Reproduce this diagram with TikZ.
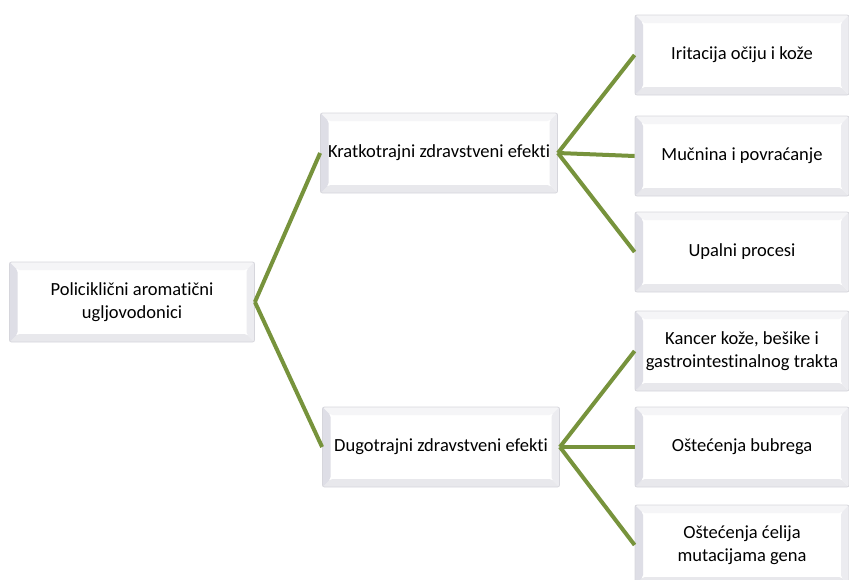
\documentclass[tikz,border=0pt]{standalone}
\usepackage{fontspec}
\setmainfont{Carlito}[Ligatures=CommonOff]
\usepackage{tikz}
\usetikzlibrary{positioning, calc}
\definecolor{branchgreen}{RGB}{119,147,60}
\definecolor{bevelline}{RGB}{214,214,220}
\definecolor{bevelleft}{RGB}{222,222,230}
\definecolor{bevelright}{RGB}{236,236,240}
\definecolor{beveltop}{RGB}{245,245,247}
\definecolor{bevelbottom}{RGB}{232,232,236}
\tikzset{
    bevelbox/.style={rectangle, draw=bevelline, line width=0.8pt, rounded corners=2pt, fill=white,
        minimum height=80pt, inner sep=2pt, align=center, font=\fontsize{18.5}{22.5}\selectfont,
        path picture={
            \fill[beveltop] (path picture bounding box.north west) -- (path picture bounding box.north east)
                -- ([shift={(-8pt,-8pt)}]path picture bounding box.north east) -- ([shift={(8pt,-8pt)}]path picture bounding box.north west) -- cycle;
            \fill[bevelbottom] (path picture bounding box.south west) -- (path picture bounding box.south east)
                -- ([shift={(-8pt,8pt)}]path picture bounding box.south east) -- ([shift={(8pt,8pt)}]path picture bounding box.south west) -- cycle;
            \fill[bevelleft] (path picture bounding box.north west) -- ([shift={(8pt,-8pt)}]path picture bounding box.north west)
                -- ([shift={(8pt,8pt)}]path picture bounding box.south west) -- (path picture bounding box.south west) -- cycle;
            \fill[bevelright] (path picture bounding box.north east) -- ([shift={(-8pt,-8pt)}]path picture bounding box.north east)
                -- ([shift={(-8pt,8pt)}]path picture bounding box.south east) -- (path picture bounding box.south east) -- cycle;
        }},
    rootbox/.style={bevelbox, minimum width=245pt},
    effectbox/.style={bevelbox, minimum width=237pt},
    leafbox/.style={bevelbox, minimum width=214pt},
    branch/.style={line width=4pt, color=branchgreen}
}

\begin{document}
\begin{tikzpicture}[x=1pt, y=-1pt]
    \useasboundingbox (0,0) rectangle (849,579);
    \clip (0,0) rectangle (849,579);

    % Root
    \node (pah) [rootbox] at (132,302) {Policiklični aromatični\\ugljovodonici};

    % Effects
    \node (short) [effectbox] at (439,153) {Kratkotrajni zdravstveni efekti};
    \node (long) [effectbox] at (441,447) {Dugotrajni zdravstveni efekti};

    % Short term leaves
    \node (eyes) [leafbox] at (742,55) {Iritacija očiju i kože};
    \node (nausea) [leafbox] at (742,156) {Mučnina i povraćanje};
    \node (inflam) [leafbox] at (742,252) {Upalni procesi};

    % Long term leaves
    \node (cancer) [leafbox] at (742,351) {Kancer kože, bešike i\\gastrointestinalnog trakta};
    \node (kidney) [leafbox] at (742,447) {Oštećenja bubrega};
    \node (cells) [leafbox] at (742,545) {Oštećenja ćelija\\mutacijama gena};

    % Branches
    \draw [branch] (pah.east) -- (short.west);
    \draw [branch] (pah.east) -- (long.west);
    \draw [branch] (short.east) -- (eyes.west);
    \draw [branch] (short.east) -- (nausea.west);
    \draw [branch] (short.east) -- (inflam.west);
    \draw [branch] (long.east) -- (cancer.west);
    \draw [branch] (long.east) -- (kidney.west);
    \draw [branch] (long.east) -- (cells.west);
\end{tikzpicture}
\end{document}
